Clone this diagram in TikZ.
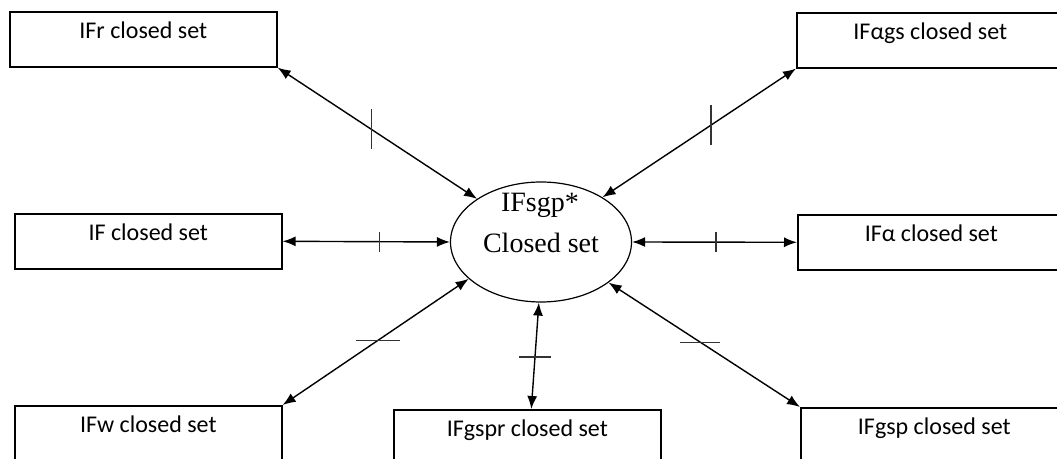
\documentclass[tikz,border=0pt]{standalone}
\usepackage{fontspec}
\setmainfont{Carlito}
\newfontfamily\timesfont{Liberation Serif}
\usetikzlibrary{arrows.meta,shapes.geometric}
\begin{document}
\begin{tikzpicture}[x=0.5pt,y=-0.5pt,
  setbox/.style={draw, line width=0.8pt, anchor=north west, inner sep=0pt,
    minimum width=133.5pt, text height=13.5pt, text depth=14pt, font=\fontsize{12}{14}\selectfont},
  link/.style={{Latex[length=6.5pt,width=5pt]}-{Latex[length=6.5pt,width=5pt]}, line width=0.7pt},
  tick/.style={line width=0.8pt, black!80}]
\useasboundingbox (0,0) rectangle (1057,459);
\clip (0,0) rectangle (1057,459);

% centre
\node[draw, ellipse, line width=0.6pt, minimum width=90.5pt, minimum height=60pt, inner sep=0pt] (sgp) at (541,242) {};
\node[font=\timesfont\fontsize{14}{16}\selectfont] (sgptop) at (540,205) {IFsgp*};
\node[font=\timesfont\fontsize{14}{16}\selectfont] (sgpbot) at (541,243) {Closed set};

% boxes
\node[setbox] (r) at (9,11) {IFr closed set};
\node[setbox] (ags) at (796,12) {IFαgs closed set};
\node[setbox] (f) at (14,213) {IF closed set};
\node[setbox] (a) at (797,214) {IFα closed set};
\node[setbox] (w) at (14,405) {IFw closed set};
\node[setbox] (gspr) at (393,409) {IFgspr closed set};
\node[setbox] (gsp) at (800,407) {IFgsp closed set};

% arrows
\draw[link] (r.south east) -- coordinate[pos=.47] (m1) (sgp.146);
\draw[link] (ags.south west) -- coordinate[pos=.44] (m2) (sgp.36);
\draw[link] (f.east) -- coordinate[pos=.58] (m3) (sgp.west);
\draw[link] (sgp.east) -- coordinate[pos=.51] (m4) (a.west);
\draw[link] (w.north east) -- coordinate[pos=.51] (m5) (sgp.207);
\draw[link] (sgp.268) -- coordinate[pos=.51] (m6) ([xshift=2pt]gspr.north);
\draw[link] (gsp.north west) -- coordinate[pos=.52] (m7) (sgp.329);

% ticks
\draw[tick] ([yshift=10pt]m1) -- ([yshift=-10pt]m1);
\draw[tick] ([yshift=10pt]m2) -- ([yshift=-10pt]m2);
\draw[tick] ([yshift=5pt]m3) -- ([yshift=-5pt]m3);
\draw[tick] ([yshift=5pt]m4) -- ([yshift=-5pt]m4);
\draw[tick] ([xshift=-11pt]m5) -- ([xshift=11pt]m5);
\draw[tick] ([xshift=-8pt]m6) -- ([xshift=8pt]m6);
\draw[tick] ([xshift=-10pt]m7) -- ([xshift=10pt]m7);
\end{tikzpicture}
\end{document}
